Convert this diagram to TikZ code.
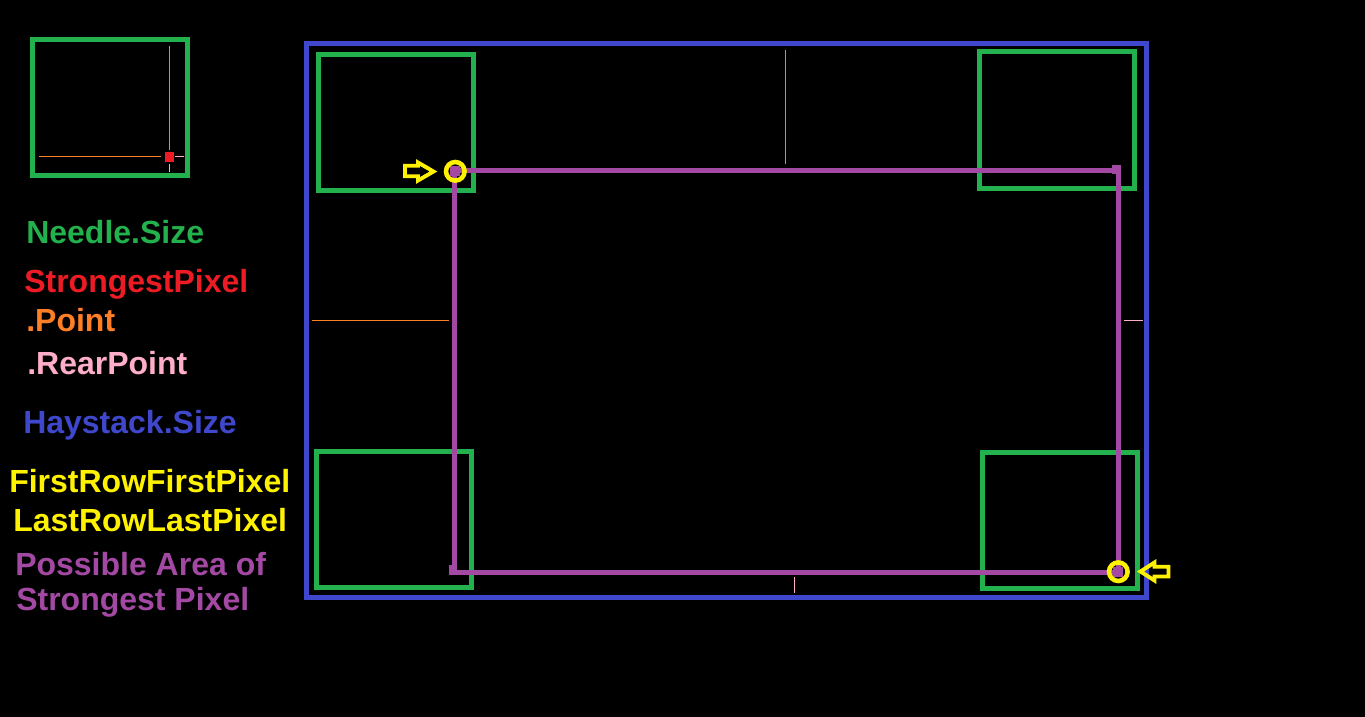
\documentclass[tikz,border=0pt]{standalone}
\usepackage{fontspec}
\setmainfont{Liberation Sans}
\definecolor{pgreen}{HTML}{22B14C}
\definecolor{pred}{HTML}{ED1C24}
\definecolor{porange}{HTML}{FF7F27}
\definecolor{ppink}{HTML}{FFAEC9}
\definecolor{pblue}{HTML}{3F48CC}
\definecolor{pyellow}{HTML}{FFF200}
\definecolor{ppurple}{HTML}{A349A4}

\begin{document}
\begin{tikzpicture}[x=0.75pt,y=-0.75pt,
  label text/.style={anchor=base west,inner sep=0pt,font=\bfseries\fontsize{24}{28}\selectfont},
  needle box/.style={draw=pgreen,line width=3.75pt},
  thin mark/.style={line width=0.75pt},
  yellow arrow/.style={draw=pyellow,line width=2.9pt,line join=miter},
  yellow ring/.style={draw=pyellow,line width=3.4pt}]
\fill[black] (0,0) rectangle (1365,717);
\useasboundingbox (0,0) rectangle (1365,717);
% needle
\draw[needle box] (32.5,39.5) rectangle (187.5,175.5);
\draw[thin mark,porange] (39,156.5) -- (161,156.5);
\draw[thin mark,porange] (169.5,46) -- (169.5,150);
\draw[thin mark,ppink] (175,156.5) -- (184,156.5);
\draw[thin mark,ppink] (169.5,164) -- (169.5,172);
\fill[pred] (165,152) rectangle (174,162);
% haystack
\draw[pblue,line width=3.75pt] (306.5,43.5) rectangle (1146.5,597.5);
\draw[needle box] (318.5,54.5) rectangle (473.5,190.5);
\draw[needle box] (979,52) rectangle (1134,188);
\draw[needle box] (316.5,451.5) rectangle (471.5,587.5);
\draw[needle box] (982.5,452.5) rectangle (1137.5,588.5);
\draw[thin mark,porange] (312,320.5) -- (449,320.5);
\draw[thin mark,ppink] (1124,320.5) -- (1143,320.5);
\draw[thin mark,porange] (785.5,50) -- (785.5,164);
\draw[thin mark,ppink] (794.5,577) -- (794.5,593);
% possible area
\draw[ppurple,line width=3.75pt] (454.5,170.5) rectangle (1118.5,572.5);
\fill[ppurple] (1112,165) rectangle (1121,174);
\fill[ppurple] (449,565) rectangle (457,575);
\fill[ppurple] (450,166) rectangle (460,176);
\fill[ppurple] (1113,567) rectangle (1123,577);
\draw[yellow ring] (455.3,171.3) circle (9.3);
\draw[yellow ring] (1118.3,571.7) circle (9.3);
\draw[yellow arrow] (405,165.8) -- (418,165.8) -- (418,162.5) -- (433.5,171.5)
  -- (418,180.5) -- (418,176.2) -- (405,176.2) -- cycle;
\draw[yellow arrow] (1140.5,571.5) -- (1154.5,562.5) -- (1154.5,566.8) -- (1168.5,566.8)
  -- (1168.5,576.5) -- (1154.5,576.5) -- (1154.5,580.5) -- cycle;
% legend
\node[label text,pgreen] (needlesize) at (26,243) {Needle.Size};
\node[label text,pred] (strongest) at (24,292) {StrongestPixel};
\node[label text,porange] (point) at (26,331) {.Point};
\node[label text,ppink] (rearpoint) at (27,374) {.RearPoint};
\node[label text,pblue] (haystacksize) at (23,433) {Haystack.Size};
\node[label text,pyellow] (firstrow) at (9,492) {FirstRowFirstPixel};
\node[label text,pyellow] (lastrow) at (13,531) {LastRowLastPixel};
\node[label text,ppurple] (possible) at (15,575) {Possible Area of};
\node[label text,ppurple] (possible2) at (16,610) {Strongest Pixel};
\end{tikzpicture}
\end{document}
